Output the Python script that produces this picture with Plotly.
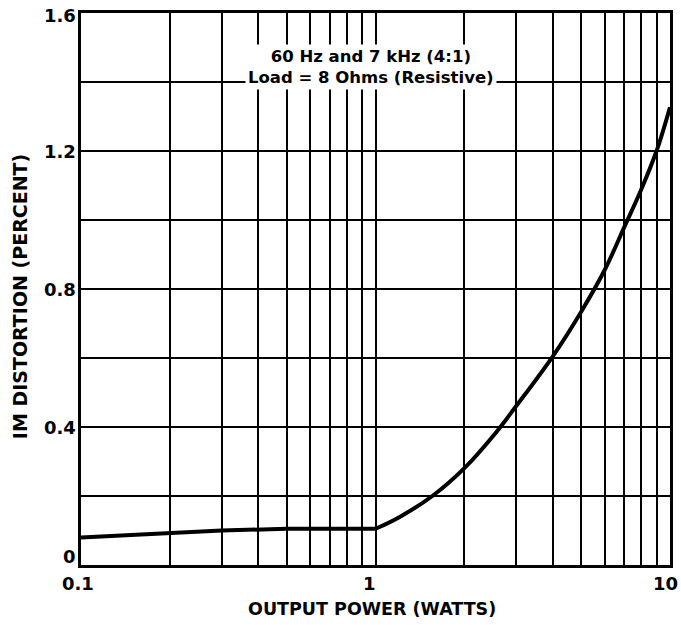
import math
import plotly.graph_objects as go

# Data
# low-power section (nearly flat, 0.1 W to 1 W)
power_low = [0.1, 0.2, 0.3, 0.5, 0.7, 1.0]
dist_low = [0.08, 0.093, 0.10, 0.105, 0.106, 0.105]
# rising section (1 W to 10 W)
power_high = [1.0, 1.2, 1.56, 2.0, 2.57, 3.0, 4.0, 5.0, 6.0, 7.0, 8.0, 9.0, 10.0]
dist_high = [0.105, 0.138, 0.20, 0.28, 0.385, 0.46, 0.605, 0.735, 0.855, 0.98, 1.09, 1.20, 1.327]

x_grid = [0.1, 0.2, 0.3, 0.4, 0.5, 0.6, 0.7, 0.8, 0.9, 1, 2, 3, 4, 5, 6, 7, 8, 9, 10]
x_tick_vals = [0.1, 1, 10]
x_tick_text = ["0.1", "1", "10"]
y_grid = [0, 0.2, 0.4, 0.6, 0.8, 1.0, 1.2, 1.4, 1.6]
y_tick_vals = [0, 0.4, 0.8, 1.2, 1.6]
y_tick_text = ["0", "0.4", "0.8", "1.2", "1.6"]

FONT = "DejaVu Sans"
TICKFONT = dict(family=FONT, size=18, weight="bold", color="black")

fig = go.Figure()
fig.add_trace(go.Scatter(x=power_low, y=dist_low, mode="lines",
                         line=dict(color="black", width=4), showlegend=False))
fig.add_trace(go.Scatter(x=power_high, y=dist_high, mode="lines",
                         line=dict(color="black", width=4, shape="spline", smoothing=1.0),
                         showlegend=False))

fig.update_layout(
    width=681, height=625,
    margin=dict(l=81, r=11, t=13, b=60),
    paper_bgcolor="white", plot_bgcolor="white",
    font=dict(family=FONT, color="black"),
    xaxis=dict(
        type="log", range=[-1, 1],
        tickvals=x_grid, showticklabels=False,
        ticks="", showgrid=True, gridcolor="black", gridwidth=2,
        showline=True, linecolor="black", linewidth=2.5, mirror=True,
        zeroline=False, automargin=False,
    ),
    yaxis=dict(
        range=[0, 1.6],
        tickvals=y_grid, showticklabels=False,
        ticks="", showgrid=True, gridcolor="black", gridwidth=2,
        showline=True, linecolor="black", linewidth=2.5, mirror=True,
        zeroline=False, automargin=False,
    ),
)

# x tick labels (log axis uses log10 positions)
x_shifts = [-3, -6, -5]
for v, t, s in zip(x_tick_vals, x_tick_text, x_shifts):
    fig.add_annotation(x=math.log10(v), xref="x", y=0, yref="paper",
                       xanchor="center", yanchor="top",
                       yshift=-6, xshift=s, text=t, showarrow=False, font=TICKFONT)

# y tick labels
y_shifts = {0: 9, 1.6: -2}
for v, t in zip(y_tick_vals, y_tick_text):
    fig.add_annotation(x=0, xref="paper", y=v, yref="y",
                       xanchor="right", yanchor="middle",
                       xshift=-3, yshift=y_shifts.get(v, 0),
                       text=t, showarrow=False, font=TICKFONT)

# axis titles
fig.add_annotation(xref="paper", yref="paper", x=0.494, y=-0.0797,
                   xanchor="center", yanchor="middle",
                   text="OUTPUT POWER (WATTS)", showarrow=False,
                   font=dict(family=FONT, size=17.5, weight="bold", color="black"))
fig.add_annotation(xref="paper", yref="paper", x=-0.1036, y=0.487,
                   xanchor="center", yanchor="middle", textangle=-90,
                   text="IM DISTORTION (PERCENT)", showarrow=False,
                   font=dict(family=FONT, size=19, weight="bold", color="black"))

fig.add_annotation(
    xref="paper", yref="paper", x=0.492, y=0.902,
    xanchor="center", yanchor="middle",
    text="60 Hz and 7 kHz (4:1)<br>Load = 8 Ohms (Resistive)",
    showarrow=False, bgcolor="white", borderpad=2,
    font=dict(family=FONT, size=16.5, weight="bold", color="black"),
    align="center",
)

# remove the default page margin so the figure fills the window exactly
fig.write_html("out.html",
               config={"displayModeBar": False},
               post_script="document.body.style.margin='0';document.body.style.overflow='hidden';")
